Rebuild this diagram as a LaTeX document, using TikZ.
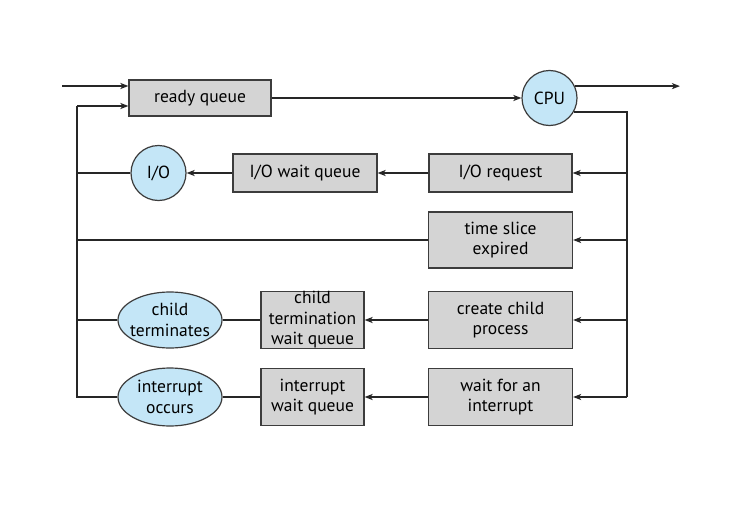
\documentclass[tikz,border=0pt]{standalone}
\usepackage{fontspec}
\setmainfont{PT Sans}
\usetikzlibrary{arrows.meta,shapes.geometric}
\definecolor{boxgray}{RGB}{212,212,212}
\definecolor{lblue}{RGB}{196,230,247}
\definecolor{edge}{RGB}{60,60,60}
\tikzset{
  lbl/.style={font=\fontsize{17.5}{20.5}\selectfont},
  qbox/.style={draw=edge, fill=boxgray, line width=1.2pt, inner sep=0pt, align=center, lbl},
  circ/.style={circle, draw=edge, fill=lblue, line width=1.2pt, inner sep=0pt,
    minimum size=55pt, align=center, lbl},
  ell/.style={ellipse, draw=edge, fill=lblue, line width=1.2pt, inner xsep=-8pt, inner ysep=-3pt,
    minimum width=104pt, minimum height=56pt, align=center, lbl},
  conn/.style={line width=2pt, draw=black!85},
  arr/.style={conn, -{Stealth[length=8pt,width=6pt,inset=2pt]}}
}
\begin{document}
\begin{tikzpicture}[x=1pt,y=-1pt]
\useasboundingbox (0,0) rectangle (755,527);
\fill[white] (0,0) rectangle (755,527);
% nodes
\node[qbox, minimum width=142pt, minimum height=36pt] (rq) at (200,98) {ready queue};
\node[circ] (cpu) at (549.5,98) {CPU};
\node[qbox, minimum width=143pt, minimum height=38pt] (ior) at (500.5,173) {I/O request};
\node[qbox, minimum width=144pt, minimum height=38pt] (iowq) at (305,173) {I/O wait queue};
\node[circ] (io) at (158.5,173) {I/O};
\node[qbox, minimum width=144pt, minimum height=56pt] (ts) at (500.5,240) {time slice\\expired};
\node[qbox, minimum width=144pt, minimum height=57pt] (cc) at (500.5,320) {create child\\process};
\node[qbox, minimum width=103pt, minimum height=57pt] (ctwq) at (312.5,320) {child\\termination\\wait queue};
\node[ell] (ct) at (170,320) {child\\terminates};
\node[qbox, minimum width=144pt, minimum height=57pt] (wi) at (500.5,397) {wait for an\\interrupt};
\node[qbox, minimum width=103pt, minimum height=57pt] (iwq) at (312.5,397) {interrupt\\wait queue};
\node[ell, minimum height=58pt] (ioc) at (170,397) {interrupt\\occurs};
% coordinates
\coordinate (in) at (62,86);
\coordinate (out) at (680,86);
\coordinate (rbx) at (627,0);
\coordinate (lbx) at (77,0);
\coordinate (lbt) at (77,106);
% top flow
\draw[arr] (in) -- (rq.west |- in);
\draw[arr] (rq.east) -- (cpu.west);
\draw[arr] (cpu.25) -- (cpu.25 -| out);
% right bus
\draw[conn] (cpu.-30) -- (cpu.-30 -| rbx) -- (rbx |- wi.east);
\draw[arr] (rbx |- wi.east) -- (wi.east);
\draw[arr] (rbx |- cc.east) -- (cc.east);
\draw[arr] (rbx |- ts.east) -- (ts.east);
\draw[arr] (rbx |- ior.east) -- (ior.east);
% rows
\draw[arr] (ior) -- (iowq);
\draw[arr] (iowq) -- (io);
\draw[conn] (io.west) -- (io.west -| lbx);
\draw[conn] (ts.west) -- (ts.west -| lbx);
\draw[arr] (cc) -- (ctwq);
\draw[conn] (ctwq) -- (ct);
\draw[conn] (ct.west) -- (ct.west -| lbx);
\draw[arr] (wi) -- (iwq);
\draw[conn] (iwq) -- (ioc);
% left bus
\draw[conn] (ioc.west) -- (ioc.west -| lbx) -- (lbt);
\draw[arr] (lbt) -- (rq.west |- lbt);
\end{tikzpicture}
\end{document}
